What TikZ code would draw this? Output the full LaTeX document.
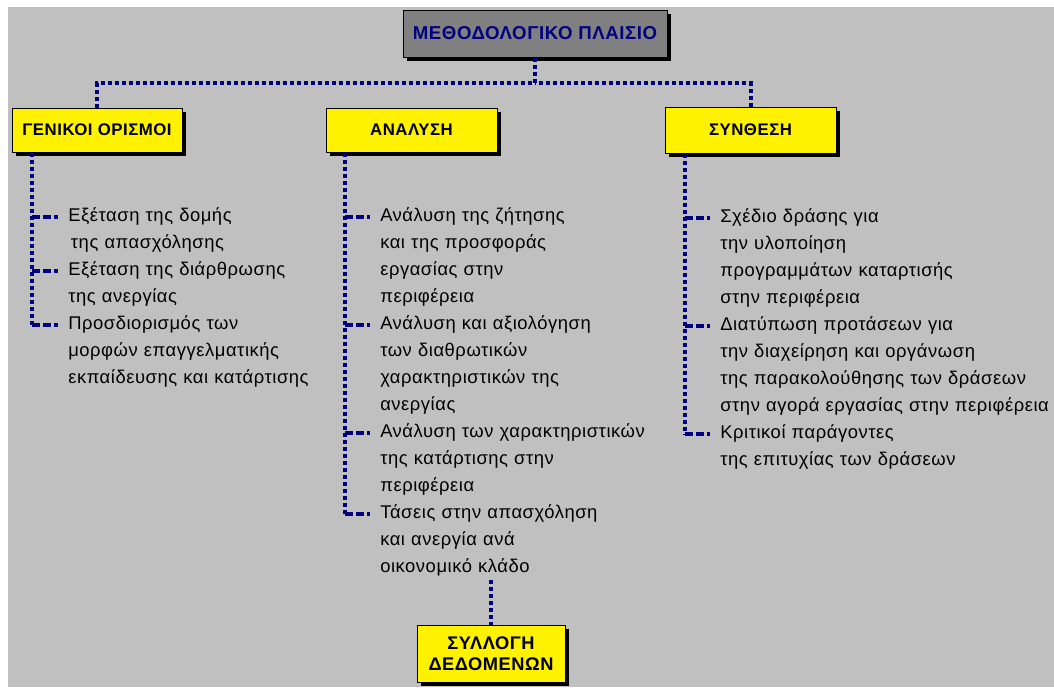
\documentclass[tikz,border=0pt]{standalone}
\usepackage{fontspec}
\setmainfont[LetterSpace=3]{Liberation Sans}
\usetikzlibrary{shadows}
\definecolor{panelgray}{RGB}{192,192,192}
\definecolor{titlegray}{RGB}{128,128,128}
\definecolor{linkblue}{RGB}{0,0,128}
\tikzset{
  box/.style={draw=black, line width=0.75pt, fill=yellow, align=center, inner sep=0pt,
    font=\fontsize{12.6}{15.75}\selectfont\bfseries,
    drop shadow={shadow xshift=3pt, shadow yshift=-3pt, fill=black, opacity=1}},
  item/.style={anchor=base west, inner sep=0pt, text width=9cm, align=left,
    font=\fontsize{13.8}{20.25}\selectfont},
  link/.style={linkblue, line width=3pt, dash pattern=on 3pt off 2.25pt},
  branch/.style={linkblue, line width=3pt, dash pattern=on 6pt off 2.25pt, shorten >=7.5pt},
}
\begin{document}
\begin{tikzpicture}[x=0.75pt, y=-0.75pt]
\useasboundingbox (0,0) rectangle (1054,687);
\fill[white] (0,0) rectangle (1054,687);
\fill[panelgray] (8,7) rectangle (1054,687);

\node[box, fill=titlegray, text=linkblue, font=\fontsize{14}{16}\selectfont\bfseries,
  minimum width=198pt, minimum height=35.25pt] (title) at (535,33.5) {ΜΕΘΟΔΟΛΟΓΙΚΟ ΠΛΑΙΣΙΟ};
\node[box, minimum width=127.5pt, minimum height=33pt] (gen) at (97,130) {ΓΕΝΙΚΟΙ ΟΡΙΣΜΟΙ};
\node[box, minimum width=128.25pt, minimum height=33pt] (ana) at (411.5,130) {ΑΝΑΛΥΣΗ};
\node[box, minimum width=128.25pt, minimum height=34.5pt] (syn) at (750.5,130) {ΣΥΝΘΕΣΗ};
\node[box, minimum width=111pt, minimum height=42.75pt, font=\fontsize{13.7}{15.75}\selectfont\bfseries]
  (data) at (491,653.5) {ΣΥΛΛΟΓΗ\\ΔΕΔΟΜΕΝΩΝ};

\coordinate (bus) at (535,83);
\draw[link] (title.south) -- (bus);
\draw[link] (gen.north) |- (bus);
\draw[link] (syn.north) |- (bus);

\node[item] (gen1) at (68,221) {Εξέταση της δομής\\\hspace{2pt}της απασχόλησης};
\node[item] (gen2) at (68,275) {Εξέταση της διάρθρωσης\\της ανεργίας};
\node[item] (gen3) at (68,329) {Προσδιορισμός των\\μορφών επαγγελματικής\\εκπαίδευσης και κατάρτισης};

\node[item] (ana1) at (380,221) {Ανάλυση της ζήτησης\\και της προσφοράς\\εργασίας στην\\περιφέρεια};
\node[item] (ana2) at (380,329) {Ανάλυση και αξιολόγηση\\των διαθρωτικών\\χαρακτηριστικών της\\ανεργίας};
\node[item] (ana3) at (380,437) {Ανάλυση των χαρακτηριστικών\\της κατάρτισης στην\\περιφέρεια};
\node[item] (ana4) at (380,518) {Τάσεις στην απασχόληση\\και ανεργία ανά\\οικονομικό κλάδο};

\node[item] (syn1) at (720,222) {Σχέδιο δράσης για\\την υλοποίηση\\προγραμμάτων καταρτισής\\στην περιφέρεια};
\node[item] (syn2) at (720,330) {Διατύπωση προτάσεων για\\την διαχείρηση και οργάνωση\\της παρακολούθησης των δράσεων\\στην αγορά εργασίας στην περιφέρεια};
\node[item] (syn3) at (720,438) {Κριτικοί παράγοντες\\της επιτυχίας των δράσεων};

\coordinate (genx) at (32,0);
\coordinate (anax) at (345,0);
\coordinate (synx) at (685,0);
\draw[link] (genx |- gen.south) -- (genx |- gen3.mid west);
\draw[link] (anax |- ana.south) -- (anax |- ana4.mid west);
\draw[link] (synx |- syn.south) -- (synx |- syn3.mid west);
\foreach \t in {gen1,gen2,gen3}
  \draw[branch] (genx |- \t.mid west) -- (\t.mid west);
\foreach \t in {ana1,ana2,ana3,ana4}
  \draw[branch] (anax |- \t.mid west) -- (\t.mid west);
\foreach \t in {syn1,syn2,syn3}
  \draw[branch] (synx |- \t.mid west) -- (\t.mid west);

\coordinate (feed) at (491,580);
\draw[link] (feed) -- (data.north);
\end{tikzpicture}
\end{document}
